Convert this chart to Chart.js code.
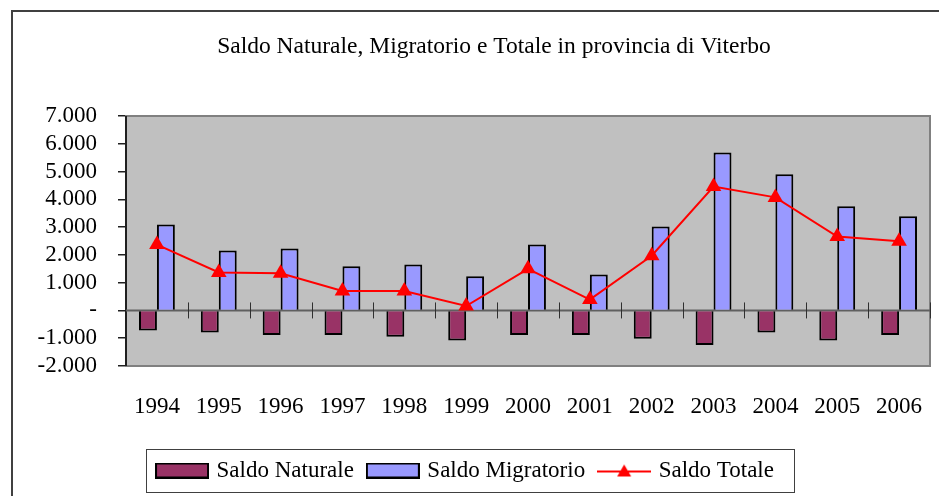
<!DOCTYPE html>
<html>
<head>
<meta charset="utf-8">
<script src="https://cdn.jsdelivr.net/npm/chart.js@4"></script>
<style>
  html, body { margin: 0; padding: 0; background: #fff; overflow: hidden; }
  #wrap { position: relative; width: 939px; height: 496px; }
  #frame {
    position: absolute; left: 11px; top: 10px; width: 1000px; height: 600px;
    border-left: 2px solid #404040; border-top: 2px solid #404040;
    pointer-events: none;
  }
</style>
</head>
<body>
<div id="wrap">
  <canvas id="chart" width="939" height="496"></canvas>
  <div id="frame"></div>
</div>
<script>
const years = ['1994', '1995', '1996', '1997', '1998', '1999', '2000',
  '2001', '2002', '2003', '2004', '2005', '2006'];
const saldoNaturale = [-720, -790, -880, -880, -950, -1080, -880, -880, -1020, -1240, -790, -1080, -880];
const saldoMigratorio = [3090, 2160, 2230, 1590, 1650, 1230, 2370, 1290, 3020, 5690, 4900, 3750, 3390];
const saldoTotale = [2370, 1370, 1340, 700, 700, 160, 1500, 390, 1970, 4460, 4070, 2660, 2490];
const yTicks = [-2000, -1000, 0, 1000, 2000, 3000, 4000, 5000, 6000, 7000];
const chartTitle = 'Saldo Naturale, Migratorio e Totale in provincia di Viterbo';

const FONT = "'Liberation Serif', 'Times New Roman', serif";

function fmt(v) {
  if (v === 0) return '-';
  const s = String(Math.abs(v)).replace(/\B(?=(\d{3})+(?!\d))/g, '.');
  return (v < 0 ? '-' : '') + s;
}

// legend swatches drawn into small canvases
function swatch(fill) {
  const c = document.createElement('canvas');
  c.width = 54; c.height = 16;
  const g = c.getContext('2d');
  g.fillStyle = fill;
  g.fillRect(1, 1, 52, 14);
  g.strokeStyle = '#000';
  g.lineWidth = 2;
  g.strokeRect(1, 1, 52, 14);
  return c;
}
function lineSwatch() {
  const c = document.createElement('canvas');
  c.width = 54; c.height = 16;
  const g = c.getContext('2d');
  g.strokeStyle = '#ff0000';
  g.lineWidth = 2;
  g.beginPath(); g.moveTo(0, 9); g.lineTo(54, 9); g.stroke();
  g.fillStyle = '#ff0000';
  g.beginPath(); g.moveTo(27, 2); g.lineTo(34, 14); g.lineTo(20, 14); g.closePath(); g.fill();
  return c;
}
const legendIcons = [swatch('#993366'), swatch('#9999ff'), lineSwatch()];

const plotBg = {
  id: 'plotBg',
  beforeDatasetsDraw(chart) {
    const { ctx, chartArea: a, scales: { x, y } } = chart;
    ctx.save();
    ctx.fillStyle = '#c0c0c0';
    ctx.fillRect(a.left, a.top, a.right - a.left, a.bottom - a.top);
    ctx.strokeStyle = '#808080';
    ctx.lineWidth = 2;
    ctx.strokeRect(a.left, a.top, a.right - a.left, a.bottom - a.top);
    // left axis
    ctx.strokeStyle = '#202020';
    ctx.beginPath(); ctx.moveTo(a.left, a.top); ctx.lineTo(a.left, a.bottom); ctx.stroke();
    // zero line with category ticks
    const y0 = y.getPixelForValue(0);
    ctx.strokeStyle = '#606060';
    ctx.beginPath(); ctx.moveTo(a.left, y0); ctx.lineTo(a.right, y0); ctx.stroke();
    ctx.strokeStyle = '#303030';
    ctx.lineWidth = 1;
    const step = x.getPixelForValue(1) - x.getPixelForValue(0);
    for (let i = 1; i <= years.length; i++) {
      const px = Math.round(x.getPixelForValue(i) - step / 2) + 0.5;
      ctx.beginPath(); ctx.moveTo(px, y0 - 8); ctx.lineTo(px, y0 + 8); ctx.stroke();
    }
    ctx.restore();
  },
  afterDraw(chart) {
    const { ctx } = chart;
    ctx.save();
    // title: the original chart object is wider than the visible crop
    ctx.fillStyle = '#000';
    ctx.font = '23.5px ' + FONT;
    ctx.textAlign = 'center';
    ctx.textBaseline = 'middle';
    ctx.fillText(chartTitle, 494, 47);
    // legend frame
    const lg = chart.legend;
    if (lg && lg.legendHitBoxes.length) {
      const hb = lg.legendHitBoxes;
      const l = Math.min(...hb.map(h => h.left)) - 13;
      const r = Math.max(...hb.map(h => h.left + h.width)) + 20;
      ctx.strokeStyle = '#404040';
      ctx.lineWidth = 1;
      ctx.strokeRect(Math.round(l) + 0.5, Math.round(lg.top) + 6.5, Math.round(r - l), 43);
    }
    ctx.restore();
  }
};

new Chart(document.getElementById('chart'), {
  type: 'bar',
  data: {
    labels: years,
    datasets: [
      {
        label: 'Saldo Naturale', data: saldoNaturale, order: 1,
        backgroundColor: '#993366', borderColor: '#000', borderWidth: 2,
        categoryPercentage: 0.58, barPercentage: 1.0
      },
      {
        label: 'Saldo Migratorio', data: saldoMigratorio, order: 1,
        backgroundColor: '#9999ff', borderColor: '#000', borderWidth: 2,
        categoryPercentage: 0.58, barPercentage: 1.0
      },
      {
        type: 'line', label: 'Saldo Totale', data: saldoTotale, order: 0,
        borderColor: '#ff0000', backgroundColor: '#ff0000', borderWidth: 2,
        pointStyle: 'triangle', pointRadius: 9, pointBorderWidth: 0, tension: 0
      }
    ]
  },
  options: {
    responsive: false,
    animation: false,
    layout: { padding: { left: 0, right: 6, top: 116, bottom: 4 } },
    plugins: {
      title: { display: false },
      legend: {
        position: 'bottom',
        labels: {
          color: '#000',
          font: { family: FONT, size: 23 },
          usePointStyle: true,
          pointStyleWidth: 46,
          boxWidth: 46,
          boxHeight: 16,
          padding: 16,
          generateLabels(chart) {
            const items = Chart.defaults.plugins.legend.labels.generateLabels(chart);
            items.sort((a, b) => a.datasetIndex - b.datasetIndex);
            items.forEach(it => { it.pointStyle = legendIcons[it.datasetIndex]; });
            return items;
          }
        }
      },
      tooltip: { enabled: false }
    },
    scales: {
      x: {
        grid: { display: false, drawTicks: false },
        border: { display: false },
        ticks: { color: '#000', font: { family: FONT, size: 23 }, padding: 27, maxRotation: 0, autoSkip: false },
        afterFit(s) { s.height = 77; s.paddingLeft = 0; s.paddingRight = 0; }
      },
      y: {
        min: -2000, max: 7000,
        afterBuildTicks(s) { s.ticks = yTicks.map(v => ({ value: v })); },
        grid: { drawOnChartArea: false, tickLength: 8, color: '#202020', lineWidth: 1.5 },
        border: { display: false },
        ticks: { color: '#000', font: { family: FONT, size: 23 }, padding: 21, autoSkip: false, callback: v => fmt(v) },
        afterFit(s) { s.width = 126; s.paddingTop = 0; s.paddingBottom = 0; }
      }
    }
  },
  plugins: [plotBg]
});
</script>
</body>
</html>
